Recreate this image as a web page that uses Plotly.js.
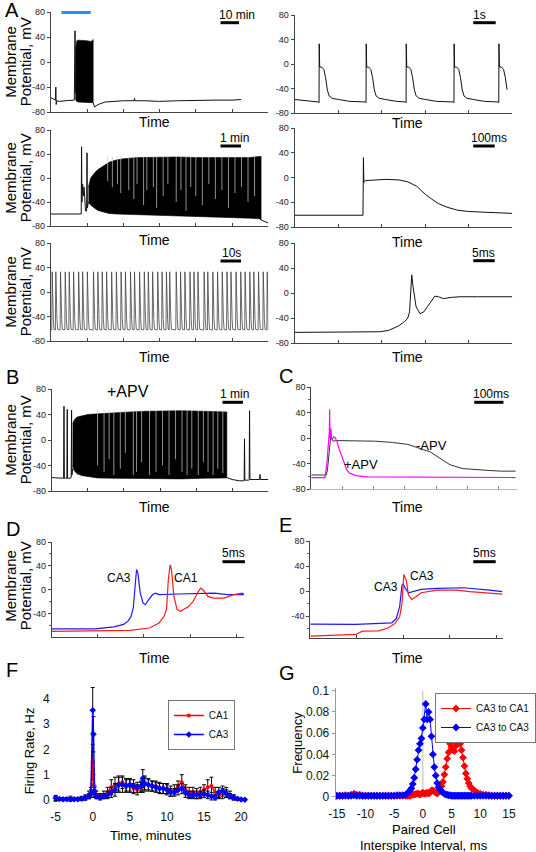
<!DOCTYPE html>
<html><head><meta charset="utf-8">
<script src="https://cdn.plot.ly/plotly-3.0.1.min.js"></script>
<style>html,body{margin:0;padding:0;background:#fff}#chart{width:536px;height:852px}</style>
</head><body><div id="chart"></div>
<script>
// ================= DATA =================
const voltTickVals = [-80, -40, 0, 40, 80];
const voltTickText = ['-80', '-40', '0', '40', '80'];
const voltTickValsDE = [-40, 0, 40, 80];
const voltTickTextDE = ['-40', '0', '40', '80'];
const voltMinorDE = [-60, -20, 20, 60];

// A, row 1 left (10 min scale)
const a1L_preX = [0, 0.08, 0.13, 0.14, 0.15, 0.17, 0.25, 0.4, 0.55, 0.65, 0.67, 0.675, 0.68];
const a1L_preY = [-57, -59, -61, -40, -68, -62, -63, -62, -62, -61, 50, -20, -50];
const a1L_blockX = [0.68, 0.7, 0.72, 0.75, 0.8, 0.9, 1.0, 1.1, 1.15, 1.17];
const a1L_blockTop = [20, 30, 34, 35, 35, 34, 34, 33, 34, 36];
const a1L_blockBot = [-58, -62, -63, -64, -64, -64, -65, -65, -65, -65];
const a1L_postX = [1.17, 1.21, 1.25, 1.35, 1.5, 1.7, 2.0, 2.3, 2.31, 2.32, 2.6, 3.0, 3.5, 4.0, 4.5, 5.0, 5.25];
const a1L_postY = [-65, -72, -70, -67, -64, -63, -62, -62, -58, -62, -62, -63, -62, -61, -61, -61, -60];

// A, row 1 right (1 s scale)
const a1R_spikes = [0.56, 1.64, 2.56, 3.66, 4.69];
const a1R_shapeDx = [-0.01, 0, 0.004, 0.015, 0.06, 0.11, 0.15, 0.19, 0.23, 0.3, 0.45, 0.7];
const a1R_shapeY = [-62, -63, 33, -5, -5, -9, -22, -42, -52, -56, -58, -61];
const a1R_preX = [0, 0.3];
const a1R_preY = [-58, -60];
const a1R_end = 4.92;

// A, row 2 left (1 min scale)
const a2L_preX = [0, 0.3, 0.6, 0.8, 0.84, 0.85, 0.86, 0.88, 0.9, 0.92, 0.94, 0.96, 0.99, 1.0, 1.01, 1.04];
const a2L_preY = [-60, -60, -61, -60, -60, 52, -40, -10, -30, -15, -35, -55, -55, 42, -50, -40];
const a2L_blockX = [1.04, 1.1, 1.2, 1.3, 1.45, 1.6, 1.8, 2.0, 2.4, 3.0, 3.5, 4.0, 4.5, 5.0, 5.5, 5.75, 5.8];
const a2L_blockTop = [-15, 0, 8, 14, 20, 26, 30, 32, 34, 35, 35, 34, 34, 33, 34, 36, 36];
const a2L_blockBot = [-40, -45, -50, -54, -57, -59, -60, -61, -62, -63, -64, -64, -65, -66, -67, -68, -70];
const a2L_postX = [5.8, 5.9, 6.0];
const a2L_postY = [-70, -73, -75];
// pauses between spikes (light gaps in the dense train): time, lowest level of the gap
const a2L_gapX = [1.57, 1.7, 1.84, 1.93, 2.15, 2.29, 2.38, 2.56, 2.65, 2.83, 2.92, 3.1, 3.23, 3.46, 3.59, 3.73, 3.86, 4.0, 4.18, 4.36, 4.54, 4.72, 4.9, 5.08, 5.26, 5.44, 5.62];
const a2L_gapLow = [-5, -15, -10, -25, -20, -35, -10, -45, -20, -15, -50, -30, -10, -40, -20, -55, -15, -30, -45, -10, -35, -20, -50, -25, -15, -40, -30];

// A, row 2 right (100 ms scale)
const a2R_x = [0, 1.0, 1.57, 1.58, 1.59, 1.6, 1.63, 1.8, 2.1, 2.4, 2.6, 2.8, 3.0, 3.15, 3.3, 3.5, 3.75, 4.0, 4.5, 5.0];
const a2R_y = [-61, -61, -61, 32, -8, -6, -5, -4, -3, -4, -7, -14, -27, -35, -42, -48, -53, -55, -57, -58];

// A, row 3 left (10 s scale)
const a3L_spikes = [0.04, 0.14, 0.27, 0.4, 0.51, 0.63, 0.77, 0.88, 1.01, 1.18, 1.3, 1.42, 1.54, 1.68, 1.81, 1.94,
  2.06, 2.2, 2.31, 2.45, 2.58, 2.69, 2.81, 2.95, 3.07, 3.19, 3.28, 3.46, 3.58, 3.7, 3.84, 3.95, 4.06, 4.23, 4.33,
  4.47, 4.6, 4.73, 4.86, 4.97, 5.11, 5.24, 5.36, 5.49, 5.6, 5.73, 5.86, 5.97];
const a3L_shapeDx = [-0.012, 0, 0.008, 0.02, 0.032, 0.05];
const a3L_shapeY = [-62, 33, -5, -8, -45, -61];

// A, row 3 right (5 ms scale)
const a3R_x = [0, 1.0, 1.7, 1.95, 2.15, 2.38, 2.52, 2.6, 2.64, 2.69, 2.72, 2.79, 2.88, 2.97, 3.05, 3.12, 3.22, 3.3, 3.42, 3.6, 3.8, 4.2, 4.6, 5.0];
const a3R_y = [-63, -63, -63, -62, -60, -53, -46, -40, -30, 29, 10, -22, -33, -30, -22, -15, -5, -6, -9, -7, -6, -6, -6, -6];

// B (+APV, 1 min scale)
const b_preX = [0, 0.2, 0.33, 0.34, 0.35, 0.38, 0.42, 0.43, 0.44, 0.5, 0.54, 0.55, 0.56, 0.58];
const b_preY = [-59, -59, -60, 53, -60, -60, -60, 48, -60, -60, -59, 47, -55, -45];
const b_blockX = [0.58, 0.62, 0.7, 0.85, 1.0, 1.27, 1.7, 2.17, 2.6, 3.07, 3.6, 4.2, 4.6, 4.8, 4.85];
const b_blockTop = [25, 31, 36, 38, 40, 41, 43, 44, 45, 46, 46, 45, 44, 44, 44];
const b_blockBot = [-40, -48, -53, -56, -57, -59.5, -60, -61, -61, -61, -61, -60, -60, -59.5, -59.5];
const b_postX = [4.85, 5.0, 5.2, 5.33, 5.34, 5.35, 5.45, 5.47, 5.48, 5.49, 5.6, 5.76, 5.77, 5.78, 6.0];
const b_postY = [-59, -62, -64, -64, 2, -63, -63, -62, 46, -62, -62, -62, -54, -62, -62];
const b_gapX = [1.27, 1.45, 1.59, 1.72, 1.9, 2.04, 2.26, 2.35, 2.49, 2.71, 2.89, 3.07, 3.25, 3.43, 3.61, 3.75, 3.88, 4.06, 4.2, 4.33, 4.47, 4.6, 4.74];
const b_gapLow = [-40, -50, -30, -55, -45, -20, -55, -50, -35, -55, -50, -40, -55, -30, -50, -55, -45, -55, -35, -50, -55, -45, -52];

// C (-APV black, +APV magenta; 100 ms scale)
const cMinus_x = [0, 0.3, 0.48, 0.52, 0.56, 0.6, 0.63, 0.66, 0.7, 0.8, 1.0, 1.5, 2.05, 2.6, 3.09, 3.4, 3.82, 4.13, 4.45, 4.86, 5.3, 5.7, 6.1, 6.55];
const cMinus_y = [-58, -58, -58, -50, -30, -10, 5, -2, -5, -4, -4, -4, -5, -7, -10, -15, -22, -32, -42, -48, -50, -51, -52, -52];
const cPlus_x = [0, 0.3, 0.44, 0.5, 0.55, 0.58, 0.59, 0.6, 0.61, 0.62, 0.63, 0.65, 0.68, 0.72, 0.76, 0.82, 0.9, 1.0, 1.06, 1.14, 1.22, 1.43, 1.8, 3.0, 4.5, 6.55];
const cPlus_y = [-62, -62, -62, -40, -5, 10, 45, 0, 25, 5, 15, 0, -2, 2, 1, -5, -18, -32, -40, -50, -55, -59, -61, -61, -62, -62];

// D (CA3 blue, CA1 red; 5 ms scale)
const dCA3_x = [0, 0.93, 1.35, 1.56, 1.66, 1.72, 1.77, 1.80, 1.84, 1.87, 1.92, 1.98, 2.03, 2.10, 2.19, 2.25, 2.33, 2.76, 3.11, 3.53, 3.81, 4.17];
const dCA3_y = [-65.5, -65.5, -62, -58, -52, -45, -30, 0, 34, 28, -5, -22, -25, -17, -8, -5.5, -8, -7, -6.7, -5.5, -8, -8];
const dCA1_x = [0, 1.70, 2.12, 2.33, 2.44, 2.49, 2.53, 2.57, 2.60, 2.65, 2.72, 2.79, 2.97, 3.07, 3.16, 3.23, 3.28, 3.39, 3.50, 3.74, 3.95, 4.13, 4.17];
const dCA1_y = [-69.5, -68, -64, -55.5, -44, -33, 17, 42, 33, -11, -33, -36, -28, -19, -5.5, 3, 0, -11, -14, -14, -8, -5.5, -6.7];

// E (two CA3 cells; 5 ms scale)
const eBlue_x = [0, 0.98, 1.75, 1.85, 1.92, 1.97, 2.0, 2.04, 2.11, 2.20, 2.38, 2.73, 3.29, 3.85, 4.13];
const eBlue_y = [-52.8, -53.3, -50.7, -43.7, -25, 9.6, 11, 4.3, -2.7, -1, 2.7, 4.3, 5.3, 1.6, -1];
const eRed_x = [0, 0.98, 1.12, 1.47, 1.68, 1.82, 1.92, 1.97, 2.01, 2.06, 2.11, 2.18, 2.27, 2.38, 2.73, 3.15, 3.43, 3.85, 4.13];
const eRed_y = [-72, -69.3, -64, -63.5, -58.7, -51.7, -41, -20, 26.7, 17.6, -6.4, -13.3, -9, -2.7, 1.6, 1.6, -1, -2.7, -4.8];

// F (firing rate, Hz vs time, minutes)
const fTime = [-5, -4.5, -4, -3.5, -3, -2.5, -2, -1.5, -1, -0.5,
  -0.25, 0, 0.1, 0.25,
  0.5, 1, 1.5, 2, 2.5, 3, 3.5, 4, 4.5, 5, 5.5, 6, 6.5,
  6.75,
  7, 7.5, 8, 8.5, 9, 9.5, 10, 10.5, 11, 11.5, 12, 12.5, 13, 13.5, 14, 14.5, 15, 15.5, 16, 16.5, 17, 17.5, 18, 18.5, 19, 19.5, 20, 20.5];
const fCA1 = [0.05, 0.03, 0.02, 0.03, 0.05, 0.03, 0.04, 0.06, 0.1, 0.2,
  0.3, 1.5, 0.6, 0.3,
  0.2, 0.15, 0.2, 0.3, 0.5, 0.6, 0.65, 0.7, 0.6, 0.55, 0.45, 0.4, 0.5,
  0.6,
  0.65, 0.6, 0.55, 0.55, 0.5, 0.45, 0.45, 0.35, 0.4, 0.55, 0.7, 0.4, 0.3, 0.3, 0.25, 0.3, 0.4, 0.5, 0.55, 0.3, 0.2, 0.25, 0.3, 0.2, 0.1, 0.05, 0.02, 0.02];
const fCA1Err = [0.1, 0.05, 0.05, 0.05, 0.1, 0.05, 0.05, 0.08, 0.1, 0.15,
  0.2, 0.7, 0.4, 0.2,
  0.15, 0.1, 0.15, 0.2, 0.3, 0.3, 0.3, 0.25, 0.25, 0.25, 0.2, 0.2, 0.2,
  0.3,
  0.3, 0.25, 0.2, 0.2, 0.2, 0.2, 0.2, 0.2, 0.2, 0.2, 0.3, 0.2, 0.2, 0.2, 0.2, 0.2, 0.2, 0.3, 0.35, 0.2, 0.15, 0.2, 0.2, 0.15, 0.1, 0.05, 0.03, 0.03];
const fCA3 = [0.08, 0.04, 0.03, 0.03, 0.03, 0.03, 0.03, 0.05, 0.08, 0.15,
  0.25, 3.55, 2.6, 0.35,
  0.15, 0.1, 0.15, 0.2, 0.3, 0.4, 0.6, 0.6, 0.55, 0.6, 0.55, 0.5, 0.55,
  0.85,
  0.65, 0.6, 0.55, 0.5, 0.45, 0.45, 0.4, 0.3, 0.3, 0.4, 0.45, 0.3, 0.2, 0.2, 0.2, 0.2, 0.25, 0.2, 0.15, 0.1, 0.3, 0.35, 0.25, 0.15, 0.1, 0.05, 0.02, 0.01];
const fCA3Err = [0.1, 0.05, 0.04, 0.04, 0.04, 0.04, 0.04, 0.05, 0.08, 0.1,
  0.15, 0.9, 0.7, 0.2,
  0.1, 0.1, 0.1, 0.15, 0.2, 0.25, 0.3, 0.3, 0.25, 0.25, 0.25, 0.2, 0.2,
  0.35,
  0.25, 0.2, 0.2, 0.2, 0.2, 0.2, 0.2, 0.15, 0.15, 0.2, 0.2, 0.2, 0.15, 0.15, 0.15, 0.15, 0.15, 0.15, 0.15, 0.1, 0.2, 0.2, 0.15, 0.1, 0.1, 0.05, 0.03, 0.02];
const fTickVals = [-5, 0, 5, 10, 15, 20];
const fTickText = ['-5', '0', '5', '10', '15', '20'];

// G (frequency vs paired-cell interspike interval, ms)
const gISI = [-15, -14.5, -14, -13.5, -13, -12.5, -12, -11.5, -11, -10.5, -10, -9.5, -9, -8.5, -8, -7.5, -7, -6.5, -6, -5.5, -5, -4.5, -4, -3.5, -3,
  -2.75, -2.5, -2.25, -2, -1.75, -1.5, -1.25, -1, -0.75, -0.5, -0.25, 0, 0.25, 0.5, 0.75, 1, 1.25, 1.5, 1.75, 2, 2.25, 2.5, 2.75,
  3, 3.25, 3.5, 3.75, 4, 4.25, 4.5, 4.75, 5, 5.25, 5.5, 5.75, 6, 6.25, 6.5, 6.75, 7, 7.25, 7.5, 7.75, 8, 8.25, 8.5,
  9, 9.5, 10, 10.5, 11, 11.5, 12, 12.5, 13, 13.5, 14, 14.5, 15];
const gCA3toCA1 = [0.001, 0.001, 0.001, 0.0015, 0.001, 0.002, 0.003, 0.002, 0.002, 0.001, 0.001, 0.001, 0.001, 0.001, 0.001, 0.001, 0.001, 0.001, 0.001, 0.001, 0.001, 0.001, 0.001, 0.001, 0.001,
  0.001, 0.0015, 0.001, 0.002, 0.002, 0.002, 0.0025, 0.003, 0.003, 0.002, 0.003, 0.004, 0.003, 0.003, 0.004, 0.003, 0.004, 0.006, 0.006, 0.005, 0.004, 0.003, 0.005,
  0.007, 0.01, 0.014, 0.021, 0.028, 0.036, 0.042, 0.05, 0.047, 0.044, 0.043, 0.048, 0.05, 0.051, 0.05, 0.044, 0.037, 0.029, 0.022, 0.017, 0.013, 0.01, 0.008,
  0.006, 0.004, 0.003, 0.002, 0.002, 0.0015, 0.001, 0.001, 0.001, 0.001, 0.001, 0.001, 0.001];
const gCA3toCA3 = [0.001, 0.001, 0.001, 0.001, 0.001, 0.001, 0.0015, 0.001, 0.001, 0.001, 0.001, 0.001, 0.001, 0.001, 0.001, 0.001, 0.001, 0.001, 0.001, 0.001, 0.001, 0.0015, 0.0015, 0.0015, 0.002,
  0.003, 0.004, 0.006, 0.008, 0.012, 0.018, 0.026, 0.035, 0.044, 0.05, 0.055, 0.065, 0.073, 0.0875, 0.073, 0.08, 0.073, 0.057, 0.04, 0.028, 0.02, 0.013, 0.009,
  0.007, 0.005, 0.004, 0.003, 0.002, 0.002, 0.0015, 0.0015, 0.001, 0.001, 0.001, 0.001, 0.001, 0.001, 0.001, 0.001, 0.001, 0.001, 0.001, 0.001, 0.001, 0.001, 0.001,
  0.001, 0.001, 0.001, 0.001, 0.001, 0.001, 0.001, 0.001, 0.001, 0.001, 0.001, 0.001, 0.001];
const gTickVals = [-15, -10, -5, 0, 5, 10, 15];
const gTickText = ['-15', '-10', '-5', '0', '5', '10', '15'];

// ================= BUILD =================
const W = 536, H = 852;
const FONT = 'Arial, "Liberation Sans", Helvetica, sans-serif';
const fx = p => p / W;
const fy = p => 1 - p / H;

function spikeTrain(times, dx, dy, preX, preY, postX, postY, xmax) {
  const x = preX.slice(), y = preY.slice();
  times.forEach(t => dx.forEach((d, i) => { if (t + d <= xmax) { x.push(t + d); y.push(dy[i]); } }));
  return { x: x.concat(postX), y: y.concat(postY) };
}
function block(bx, top, bot) {
  return { x: bx.concat(bx.slice().reverse()), y: top.concat(bot.slice().reverse()) };
}
function gaps(gx, low, top) {
  const x = [], y = [];
  gx.forEach((g, i) => { x.push(g, g, null); y.push(top, low[i], null); });
  return { x, y };
}

const traces = [];
function line(n, x, y, color, width) {
  traces.push({ type: 'scatter', mode: 'lines', x: x, y: y, xaxis: 'x' + n, yaxis: 'y' + n, connectgaps: false,
    line: { color: color || '#111', width: width || 1 }, showlegend: false, hoverinfo: 'skip' });
}
function fillBlock(n, b) {
  traces.push({ type: 'scatter', mode: 'lines', x: b.x, y: b.y, xaxis: 'x' + n, yaxis: 'y' + n, fill: 'toself',
    fillcolor: '#000', line: { color: '#000', width: 0.6 }, showlegend: false, hoverinfo: 'skip' });
}

// A1 left
line(1, a1L_preX, a1L_preY);
fillBlock(1, block(a1L_blockX, a1L_blockTop, a1L_blockBot));
line(1, a1L_postX, a1L_postY);
// A1 right
const a1r = spikeTrain(a1R_spikes, a1R_shapeDx, a1R_shapeY, a1R_preX, a1R_preY, [], [], a1R_end);
line(2, a1r.x, a1r.y);
// A2 left
line(3, a2L_preX, a2L_preY);
fillBlock(3, block(a2L_blockX, a2L_blockTop, a2L_blockBot));
const a2g = gaps(a2L_gapX, a2L_gapLow, 36);
line(3, a2g.x, a2g.y, 'rgba(200,200,200,0.9)', 0.8);
line(3, a2L_postX, a2L_postY);
// A2 right
line(4, a2R_x, a2R_y);
// A3 left
const a3l = spikeTrain(a3L_spikes, a3L_shapeDx, a3L_shapeY, [0], [-62], [6], [-62], 6);
line(5, a3l.x, a3l.y, '#444', 0.8);
// A3 right
line(6, a3R_x, a3R_y);
// B
line(7, b_preX, b_preY);
fillBlock(7, block(b_blockX, b_blockTop, b_blockBot));
const bg = gaps(b_gapX, b_gapLow, 47);
line(7, bg.x, bg.y, 'rgba(200,200,200,0.9)', 0.8);
line(7, b_postX, b_postY);
// C
line(8, cMinus_x, cMinus_y, '#333', 1);
line(8, cPlus_x, cPlus_y, '#ff00ff', 1.2);
// D
line(9, dCA3_x, dCA3_y, '#1a1aff', 1.2);
line(9, dCA1_x, dCA1_y, '#ff1a1a', 1.2);
// E
line(10, eBlue_x, eBlue_y, '#1a1aff', 1.2);
line(10, eRed_x, eRed_y, '#ff1a1a', 1.2);
// F
traces.push({ type: 'scatter', mode: 'lines+markers', name: 'CA1', x: fTime, y: fCA1, xaxis: 'x11', yaxis: 'y11',
  error_y: { type: 'data', array: fCA1Err, color: '#000', thickness: 1, width: 2 },
  line: { color: '#ff0000', width: 1.5 }, marker: { symbol: 'circle', size: 4, color: '#ff0000' }, legend: 'legend' });
traces.push({ type: 'scatter', mode: 'lines+markers', name: 'CA3', x: fTime, y: fCA3, xaxis: 'x11', yaxis: 'y11',
  error_y: { type: 'data', array: fCA3Err, color: '#000', thickness: 1, width: 2 },
  line: { color: '#0000ff', width: 1.5 }, marker: { symbol: 'diamond', size: 5, color: '#0000ff' }, legend: 'legend' });
// G
traces.push({ type: 'scatter', mode: 'lines+markers', name: 'CA3 to CA1', x: gISI, y: gCA3toCA1, xaxis: 'x12', yaxis: 'y12',
  line: { color: '#ff0000', width: 1 }, marker: { symbol: 'diamond', size: 6, color: '#ff0000' }, legend: 'legend2' });
traces.push({ type: 'scatter', mode: 'lines+markers', name: 'CA3 to CA3', x: gISI, y: gCA3toCA3, xaxis: 'x12', yaxis: 'y12',
  line: { color: '#0000ff', width: 1 }, marker: { symbol: 'diamond', size: 6, color: '#0000ff' }, legend: 'legend2' });

// ----- axes -----
const panels = [
  { n: 1, x: [52, 275], y: [12, 112], xr: [0, 6] },
  { n: 2, x: [302, 525], y: [15, 113], xr: [0, 5] },
  { n: 3, x: [52, 275], y: [130, 226], xr: [0, 6] },
  { n: 4, x: [302, 525], y: [128, 227], xr: [0, 5] },
  { n: 5, x: [52, 275], y: [243, 341], xr: [0, 6] },
  { n: 6, x: [302, 525], y: [243, 343], xr: [0, 5] },
  { n: 7, x: [53, 275], y: [389, 491], xr: [0, 6] },
  { n: 8, x: [319, 530], y: [387, 489], xr: [0, 6.6], faint: true, minor: true },
  { n: 9, x: [53, 250], y: [542, 637], xr: [0, 4.17], yr: [-79, 80], de: true },
  { n: 10, x: [318, 515], y: [541, 638], xr: [0, 4.13], yr: [-75, 80], de: true }
];
const layout = {
  width: W, height: H, margin: { l: 0, r: 0, t: 0, b: 0 }, paper_bgcolor: '#fff', plot_bgcolor: 'rgba(0,0,0,0)',
  font: { family: FONT, color: '#111', size: 10 }, showlegend: true,
  legend: { x: fx(172), y: fy(700), xanchor: 'left', yanchor: 'top', bordercolor: '#777', borderwidth: 1,
    bgcolor: '#fff', font: { size: 10, family: FONT, color: '#111' }, tracegroupgap: 0, itemwidth: 30 },
  legend2: { x: fx(446), y: fy(693), xanchor: 'left', yanchor: 'top', bordercolor: '#777', borderwidth: 1,
    bgcolor: '#fff', font: { size: 10, family: FONT, color: '#111' }, tracegroupgap: 0, itemwidth: 30 },
  shapes: [], annotations: []
};
panels.forEach(p => {
  const xa = 'xaxis' + (p.n === 1 ? '' : p.n), ya = 'yaxis' + (p.n === 1 ? '' : p.n);
  layout[xa] = { domain: [fx(p.x[0]), fx(p.x[1])], range: p.xr, anchor: 'y' + p.n, showline: true,
    linecolor: p.faint ? '#bbb' : '#444', linewidth: 1, ticks: 'inside', ticklen: 3, tickcolor: p.faint ? '#888' : '#444',
    tick0: 0, dtick: 1, showticklabels: false, showgrid: false, zeroline: false, fixedrange: true };
  layout[ya] = { domain: [fy(p.y[1]), fy(p.y[0])], range: p.yr || [-80, 80], anchor: 'x' + p.n, showline: true,
    linecolor: '#444', linewidth: 1, ticks: 'outside', ticklen: 3, tickcolor: '#444', tickmode: 'array',
    tickvals: p.de ? voltTickValsDE : voltTickVals, ticktext: p.de ? voltTickTextDE : voltTickText,
    tickfont: { size: 9, family: FONT, color: '#222' }, showgrid: false, zeroline: false, fixedrange: true };
  if (p.de || p.minor) layout[ya].minor = { tickmode: 'array', tickvals: voltMinorDE, ticks: 'outside', ticklen: 2, tickcolor: '#666' };
});
// F axes
layout.xaxis11 = { domain: [fx(52), fx(257)], range: [-5.66, 21.3], anchor: 'y11', showline: false, ticks: '',
  tickmode: 'array', tickvals: fTickVals, ticktext: fTickText, tickfont: { size: 12, family: FONT, color: '#111' },
  ticklabelstandoff: 3, showgrid: false, zeroline: false, fixedrange: true };
layout.yaxis11 = { domain: [fy(805), fy(685)], range: [-0.2, 4.55], anchor: 'x11', showline: false, ticks: '',
  dtick: 1, tick0: 0, tickfont: { size: 12, family: FONT, color: '#111' }, showgrid: false, zeroline: false, fixedrange: true };
// G axes
layout.xaxis12 = { domain: [fx(344), fx(528)], range: [-15.2, 16.1], anchor: 'y12', showline: false, ticks: '',
  tickmode: 'array', tickvals: gTickVals, ticktext: gTickText, tickfont: { size: 12, family: FONT, color: '#111' },
  ticklabelstandoff: 5, showgrid: false, zeroline: false, fixedrange: true };
layout.yaxis12 = { domain: [fy(800), fy(688)], range: [-0.003, 0.1026], anchor: 'x12', showline: true, linecolor: '#999',
  ticks: 'outside', ticklen: 3, tickcolor: '#999', dtick: 0.02, tick0: 0, tickfont: { size: 12, family: FONT, color: '#111' },
  showgrid: false, zeroline: false, fixedrange: true };

// ----- shapes: scale bars, stimulus bar, zero line -----
function bar(x0, x1, y, color) {
  layout.shapes.push({ type: 'line', xref: 'paper', yref: 'paper', x0: fx(x0), x1: fx(x1), y0: fy(y), y1: fy(y),
    line: { color: color || '#000', width: 3 } });
}
bar(63, 93, 12.5, '#1e90ff');
bar(226, 245, 22.7); bar(485, 508, 22.7);
bar(226, 247, 146); bar(485, 507, 146);
bar(226, 247, 261); bar(485, 507, 260.7);
bar(228, 249, 402.3); bar(486, 516, 402.3);
bar(228, 251, 561.7); bar(485, 508, 561.7);
layout.shapes.push({ type: 'line', xref: 'x12', yref: 'y12', x0: 0, x1: 0, y0: 0, y1: 0.1, line: { color: '#bbb', width: 1 }, layer: 'below' });

// ----- annotations -----
function ann(text, x, y, size, angle, bg) {
  layout.annotations.push({ text: text, xref: 'paper', yref: 'paper', x: fx(x), y: fy(y), xanchor: 'center', yanchor: 'middle',
    showarrow: false, font: { size: size, family: FONT, color: '#000' }, textangle: angle || 0,
    bgcolor: bg || 'rgba(0,0,0,0)' });
}
// panel letters
ann('A', 12, 10, 20); ann('B', 13, 377, 20); ann('C', 293, 376, 20); ann('D', 13, 529, 20);
ann('E', 293, 525, 20); ann('F', 12, 670, 20); ann('G', 294, 673, 20);
// y titles for membrane potential
[62, 178, 292, 440, 586].forEach(c => { ann('Membrane', 10, c, 15, -90); ann('Potential, mV', 26, c, 15, -90); });
// Time labels
[[158.5, 122], [418, 123], [158.5, 240], [418, 242], [158.5, 357], [418, 357], [158.5, 507.5], [418, 507], [158.5, 658], [418, 658]]
  .forEach(p => ann('Time', p[0], p[1], 14));
// scale bar labels
ann('10 min', 243, 15, 12); ann('1s', 491, 15, 12);
ann('1 min', 240, 138, 12); ann('100ms', 501, 138, 12);
ann('10s', 237, 253, 12); ann('5ms', 496, 253, 12);
ann('1 min', 240, 394.3, 12); ann('100ms', 503, 394.3, 12);
ann('5ms', 239, 553.3, 12); ann('5ms', 496.7, 553.3, 12);
// text in panels
ann('+APV', 131, 391, 16);
ann('-APV', 442, 445, 13); ann('+APV', 370, 464, 13);
ann('CA3', 122, 578, 12); ann('CA1', 191, 578, 12);
ann('CA3', 396, 587, 12); ann('CA3', 433, 576, 12);
// F and G axis titles
ann('Firing Rate, Hz', 30, 751, 13, -90); ann('Time, minutes', 155, 835, 13);
ann('Frequency', 304, 743, 13, -90, '#ffffff'); ann('Paired Cell', 435, 829, 13); ann('Interspike Interval, ms', 435, 845, 13);

Plotly.newPlot('chart', traces, layout, { displayModeBar: false, staticPlot: true });
</script>
</body></html>
